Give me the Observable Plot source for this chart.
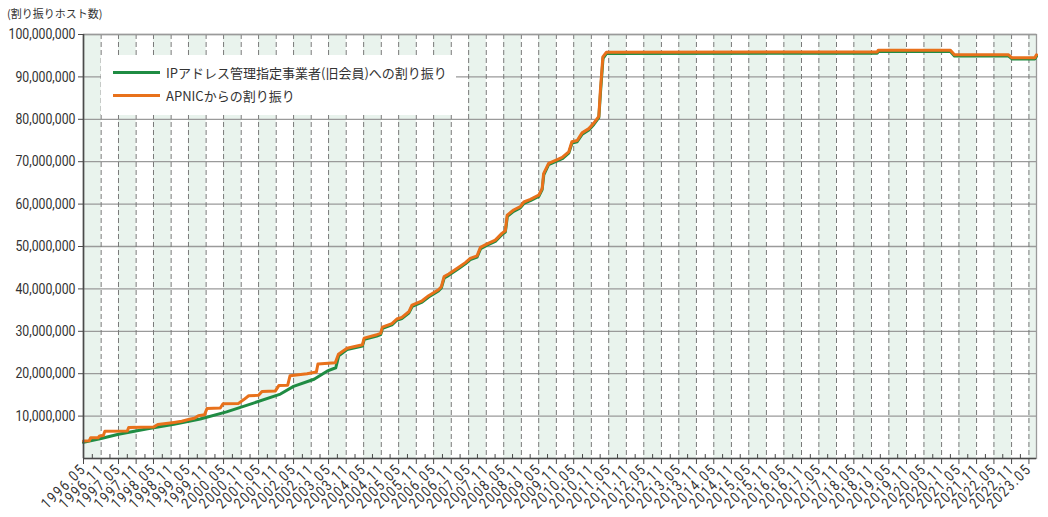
<!DOCTYPE html>
<html>
<head>
<meta charset="utf-8">
<script src="https://cdn.jsdelivr.net/npm/d3@7"></script>
<script src="https://cdn.jsdelivr.net/npm/@observablehq/plot@0.6"></script>
<style>
  body { margin: 0; background: #fff; }
  #wrap { position: relative; width: 1048px; height: 517px; overflow: hidden; }
  #wrap svg { display: block; }
  #title { position: absolute; left: 7px; top: 5px; font: 11px "Noto Sans CJK JP", sans-serif; color: #333; white-space: nowrap; }
  #legend { position: absolute; left: 101px; top: 55px; width: 355px; height: 60px; background: #fff; }
  #legend .row { position: absolute; left: 12px; height: 20px; display: flex; align-items: center; font: 13px "Noto Sans CJK JP", sans-serif; color: #333; white-space: nowrap; }
  #legend .sw { display: inline-block; width: 47px; height: 3px; margin-right: 6px; }
  .chart [aria-label="x-axis tick label"] text { letter-spacing: 2px; }
</style>
</head>
<body>
<div id="wrap">
  <div id="title"></div>
  <div id="legend"></div>
</div>
<script>
// ---- text ----
const titleText = "(割り振りホスト数)";
const seriesNames = ["IPアドレス管理指定事業者(旧会員)への割り振り", "APNICからの割り振り"];
const seriesColors = ["#1f8c43", "#e8711b"];

// ---- x-axis tick labels (every May / November) ----
const years = d3.range(1996, 2024);
const tickLabels = years.flatMap(y => y < 2023 ? [`${y}.05`, `${y}.11`] : [`${y}.05`]);
const yTicks = [10, 20, 30, 40, 50, 60, 70, 80, 90, 100]; // millions

// ---- APNICからの割り振り (orange), millions of hosts ----
const apnicDates = [
  "1996-05-01","1996-07-01","1996-07-15","1996-10-01","1996-10-15","1996-11-24","1996-12-10",
  "1997-08-01","1997-08-15","1998-05-01","1998-06-15","1998-10-01","1998-12-01","1999-02-20",
  "1999-05-01","1999-07-01","1999-08-12","1999-10-15","1999-11-10","2000-03-28","2000-04-25",
  "2000-10-04","2000-11-28","2001-01-18","2001-05-01","2001-06-06","2001-10-22","2001-11-28",
  "2002-03-01","2002-03-25","2002-09-18","2002-12-25","2003-01-10","2003-07-10","2003-08-12",
  "2003-11-10","2004-03-28","2004-04-18","2004-05-06","2004-09-15","2004-10-25","2004-11-12",
  "2005-02-20","2005-04-12","2005-06-03","2005-08-15","2005-09-18","2006-01-01","2006-03-10",
  "2006-06-20","2006-07-20","2006-08-18","2006-10-05","2007-01-18","2007-03-28","2007-05-18",
  "2007-07-28","2007-09-01","2007-11-10","2008-02-03","2008-04-12","2008-05-18","2008-06-06",
  "2008-08-12","2008-10-21","2008-11-27","2009-02-03","2009-05-01","2009-06-06","2009-06-21",
  "2009-08-12","2009-11-10","2010-01-01","2010-03-10","2010-04-12","2010-06-06","2010-07-27",
  "2010-10-06","2010-11-27","2011-01-18","2011-02-03","2011-03-01","2011-04-06","2019-01-01",
  "2019-01-10","2021-02-01","2021-03-15","2022-10-01","2022-11-06","2023-07-01","2023-07-19"
];
const apnicValues = [
  4.1, 4.2, 4.9, 4.9, 5.3, 5.4, 6.4,
  6.5, 7.3, 7.4, 8.0, 8.3, 8.5, 8.8,
  9.2, 9.5, 10.1, 10.3, 11.8, 11.9, 12.9,
  13.0, 13.9, 14.8, 14.9, 15.8, 15.9, 17.2,
  17.3, 19.5, 20.0, 20.4, 22.3, 22.6, 24.6,
  26.0, 26.7, 26.8, 28.4, 29.2, 29.5, 31.0,
  31.8, 32.9, 33.3, 34.6, 36.2, 37.2, 38.4,
  39.8, 40.5, 42.9, 43.5, 45.1, 46.2, 47.2,
  47.8, 49.8, 50.6, 51.5, 53.1, 53.7, 57.4,
  58.6, 59.4, 60.5, 61.1, 62.1, 63.7, 67.2,
  69.6, 70.5, 71.0, 72.3, 74.7, 75.0, 76.8,
  77.8, 79.1, 80.7, 86.8, 94.7, 95.8, 95.9,
  96.3, 96.3, 95.2, 95.2, 94.5, 94.5, 95.2
];

// ---- IPアドレス管理指定事業者(旧会員)への割り振り (green), millions of hosts ----
const memberDates = [
  "1996-05-01","1996-11-01","1997-05-01","1998-03-01","1998-12-01","1999-09-01","2000-06-01",
  "2001-03-01","2001-12-15","2002-05-01","2002-12-01","2003-04-15","2003-07-15","2003-08-15",
  "2003-11-10","2004-03-28","2004-04-18","2004-05-08","2004-09-15","2004-10-25","2004-11-14",
  "2005-02-20","2005-04-12","2005-06-03","2005-08-15","2005-09-20","2006-01-01","2006-03-10",
  "2006-06-20","2006-07-20","2006-08-20","2006-10-05","2007-01-18","2007-03-28","2007-05-18",
  "2007-07-28","2007-09-03","2007-11-10","2008-02-03","2008-04-12","2008-05-18","2008-06-08",
  "2008-08-12","2008-10-21","2008-11-29","2009-02-03","2009-05-01","2009-06-06","2009-06-23",
  "2009-08-12","2009-11-10","2010-01-01","2010-03-10","2010-04-14","2010-06-06","2010-07-29",
  "2010-10-06","2010-11-27","2011-01-18","2011-02-05","2011-03-03","2011-04-08","2019-01-01",
  "2019-01-10","2021-02-01","2021-03-17","2022-10-01","2022-11-08","2023-07-01","2023-07-19"
];
const memberValues = [
  3.8, 4.7, 5.7, 7.0, 8.1, 9.3, 11.0,
  13.0, 15.2, 17.0, 18.7, 20.6, 21.4, 24.2,
  25.7, 26.4, 26.5, 28.1, 28.9, 29.2, 30.7,
  31.5, 32.6, 33.0, 34.3, 35.9, 36.9, 38.1,
  39.5, 40.2, 42.6, 43.2, 44.8, 45.9, 46.9,
  47.5, 49.5, 50.3, 51.2, 52.8, 53.4, 57.1,
  58.3, 59.1, 60.2, 60.8, 61.8, 63.4, 66.9,
  69.3, 70.2, 70.7, 72.0, 74.4, 74.7, 76.5,
  77.5, 78.8, 80.4, 86.5, 94.4, 95.5, 95.6,
  96.0, 96.0, 94.9, 94.9, 94.2, 94.2, 94.9
];

// ---- build tables ----
const parseDay = d3.utcParse("%Y-%m-%d");
const parseTick = d3.utcParse("%Y.%m");
const apnic = apnicDates.map((d, i) => ({date: parseDay(d), value: apnicValues[i]}));
const member = memberDates.map((d, i) => ({date: parseDay(d), value: memberValues[i]}));
const tickDates = tickLabels.map(parseTick);
const xDomain = [parseDay("1996-05-01"), parseDay("2023-07-19")];
const minorDates = tickDates.map(d => d3.utcMonth.offset(d, 3)).filter(d => d <= xDomain[1]);
const bands = years.map(y => ({start: parseTick(`${y}.05`), end: parseTick(`${y}.11`)}));

const numFont = 'Roboto, sans-serif';

const chart = Plot.plot({
  className: "chart",
  width: 1048,
  height: 517,
  marginLeft: 83,
  marginRight: 12,
  marginTop: 34,
  marginBottom: 59,
  style: {background: "transparent", color: "#333"},
  x: {type: "utc", domain: xDomain},
  y: {domain: [0, 100]},
  marks: [
    Plot.rect(bands, {x1: "start", x2: "end", fill: "#e9f3ed", clip: true}),
    Plot.gridY(yTicks, {stroke: "#9a9a9a", strokeOpacity: 1, strokeWidth: 1.3}),
    Plot.ruleX(tickDates, {stroke: "#7a7a7a", strokeWidth: 1, strokeDasharray: "5,3"}),
    Plot.frame({stroke: "#9a9a9a", strokeWidth: 1.3}),
    Plot.line(member, {x: "date", y: "value", stroke: seriesColors[0], strokeWidth: 3, strokeLinejoin: "round"}),
    Plot.line(apnic, {x: "date", y: "value", stroke: seriesColors[1], strokeWidth: 3, strokeLinejoin: "round"}),
    Plot.ruleY([0], {stroke: "#4a4a4a", strokeWidth: 1.6}),
    Plot.ruleX([xDomain[0]], {stroke: "#4a4a4a", strokeWidth: 1.6}),
    Plot.axisY({
      ticks: yTicks, label: null, tickSize: 5, tickPadding: 3, stroke: "#4a4a4a",
      tickFormat: d => d3.format(",")(d * 1e6),
      fontSize: 14.5, fontFamily: numFont, fill: "#333"
    }),
    Plot.axisX({
      ticks: tickDates, label: null, tickSize: 6, tickPadding: 2, tickRotate: -45, stroke: "#4a4a4a",
      tickFormat: d3.utcFormat("%Y.%m"),
      fontSize: 15, fontFamily: numFont, fill: "#333"
    }),
    Plot.axisX({
      ticks: minorDates, label: null, tickSize: -4, stroke: "#4a4a4a", tickFormat: () => ""
    })
  ]
});

const wrap = document.getElementById("wrap");
wrap.insertBefore(chart, wrap.firstChild);

// condense the numeric tick labels (reference uses a narrow face)
const yTexts = Array.from(chart.querySelectorAll('[aria-label="y-axis tick label"] text'));
const yMax = d3.max(yTexts, t => t.getComputedTextLength());
const yK = 67 / yMax;
yTexts.forEach(t => {
  t.setAttribute("textLength", (t.getComputedTextLength() * yK).toFixed(1));
  t.setAttribute("lengthAdjust", "spacingAndGlyphs");
});
chart.querySelectorAll('[aria-label="x-axis tick label"] text').forEach(t => {
  if (t.textContent) {
    t.setAttribute("textLength", "56");
    t.setAttribute("lengthAdjust", "spacingAndGlyphs");
  }
});

document.getElementById("title").textContent = titleText;
const legend = document.getElementById("legend");
seriesNames.forEach((name, i) => {
  const row = document.createElement("div");
  row.className = "row";
  row.style.top = (7 + i * 23) + "px";
  const sw = document.createElement("span");
  sw.className = "sw";
  sw.style.background = seriesColors[i];
  row.appendChild(sw);
  row.appendChild(document.createTextNode(name));
  legend.appendChild(row);
});
</script>
</body>
</html>
